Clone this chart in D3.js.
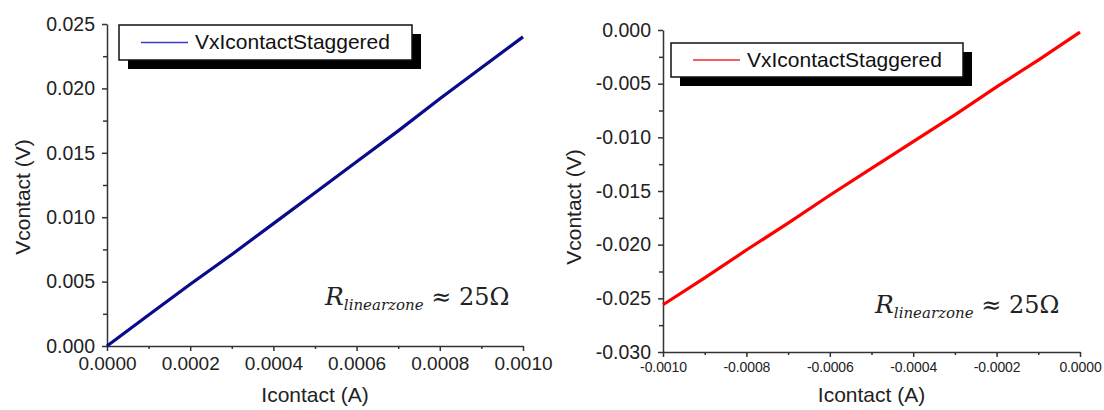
<!DOCTYPE html>
<html>
<head>
<meta charset="utf-8">
<script src="https://cdn.jsdelivr.net/npm/d3@7"></script>
<style>
  html, body { margin: 0; padding: 0; background: #fff; }
  svg { display: block; }
  .tick text { fill: #222; }
</style>
</head>
<body>
<svg id="chart" width="1104" height="410"></svg>
<script>
// Forward sweep (positive current)
const currentPos = [0, 0.0001, 0.0002, 0.0003, 0.0004, 0.0005, 0.0006, 0.0007, 0.0008, 0.0009, 0.0010];
const voltagePos = [0, 0.0024, 0.0048, 0.0071, 0.0095, 0.0119, 0.0143, 0.0167, 0.0192, 0.0216, 0.0240];

// Reverse sweep (negative current)
const currentNeg = [-0.0010, -0.0009, -0.0008, -0.0007, -0.0006, -0.0005, -0.0004, -0.0003, -0.0002, -0.0001, 0];
const voltageNeg = [-0.0256, -0.0231, -0.0205, -0.0180, -0.0154, -0.0129, -0.0104, -0.0079, -0.0053, -0.0028, -0.0002];

// Tick values
const xTicksPos = [0, 0.0002, 0.0004, 0.0006, 0.0008, 0.0010];
const xMinorPos = [0.0001, 0.0003, 0.0005, 0.0007, 0.0009];
const yTicksPos = [0, 0.005, 0.010, 0.015, 0.020, 0.025];
const yMinorPos = [0.0025, 0.0075, 0.0125, 0.0175, 0.0225];

const xTicksNeg = [-0.0010, -0.0008, -0.0006, -0.0004, -0.0002, 0];
const xMinorNeg = [-0.0009, -0.0007, -0.0005, -0.0003, -0.0001];
const yTicksNeg = [-0.030, -0.025, -0.020, -0.015, -0.010, -0.005, 0];
const yMinorNeg = [-0.0275, -0.0225, -0.0175, -0.0125, -0.0075, -0.0025];

const seriesName = "VxIcontactStaggered";
const xTitle = "Icontact (A)";
const yTitle = "Vcontact (V)";

const locale = d3.formatLocale({ decimal: ".", thousands: ",", grouping: [3], currency: ["", ""], minus: "-" });
const fmt3 = locale.format(".3f");
const fmt4 = locale.format(".4f");

const svg = d3.select("#chart");
const FONT = "'Liberation Sans', Arial, sans-serif";

function panel(cfg) {
  const g = svg.append("g");
  const x = d3.scaleLinear().domain(cfg.xDomain).range([cfg.left, cfg.right]);
  const y = d3.scaleLinear().domain(cfg.yDomain).range([cfg.bottom, cfg.top]);

  // minor ticks
  g.append("g").attr("transform", `translate(0,${cfg.bottom})`)
    .call(d3.axisBottom(x).tickValues(cfg.xMinor).tickSize(3).tickSizeOuter(0).tickFormat(""))
    .call(a => a.select(".domain").remove());
  g.append("g").attr("transform", `translate(${cfg.left},0)`)
    .call(d3.axisLeft(y).tickValues(cfg.yMinor).tickSize(4).tickSizeOuter(0).tickFormat(""))
    .call(a => a.select(".domain").remove());

  // major axes
  const xa = g.append("g").attr("transform", `translate(0,${cfg.bottom})`)
    .call(d3.axisBottom(x).tickValues(cfg.xTicks).tickSize(5).tickSizeOuter(0).tickPadding(cfg.xPad).tickFormat(fmt4));
  xa.selectAll("text").attr("font-family", FONT).attr("font-size", cfg.xFont)
    .attr("letter-spacing", cfg.xSpacing);
  const ya = g.append("g").attr("transform", `translate(${cfg.left},0)`)
    .call(d3.axisLeft(y).tickValues(cfg.yTicks).tickSize(5).tickSizeOuter(0).tickPadding(cfg.yPad).tickFormat(fmt3));
  ya.selectAll("text").attr("font-family", FONT).attr("font-size", 19.5);

  g.selectAll(".domain, .tick line").attr("stroke", "#333").attr("stroke-width", 1.5);

  // data line
  const pts = cfg.xs.map((v, i) => [v, cfg.ys[i]]);
  g.append("path")
    .datum(pts)
    .attr("fill", "none")
    .attr("stroke", cfg.color)
    .attr("stroke-width", 3.2)
    .attr("stroke-linejoin", "round")
    .attr("d", d3.line().x(d => x(d[0])).y(d => y(d[1])));

  // legend with drop shadow
  const lg = cfg.legend;
  g.append("rect").attr("x", lg.x + 9).attr("y", lg.y + 9).attr("width", lg.w).attr("height", lg.h).attr("fill", "#000");
  g.append("rect").attr("x", lg.x).attr("y", lg.y).attr("width", lg.w).attr("height", lg.h)
    .attr("fill", "#fff").attr("stroke", "#111").attr("stroke-width", 1.5);
  g.append("line").attr("x1", lg.x + 22).attr("x2", lg.x + 69)
    .attr("y1", lg.y + lg.h / 2).attr("y2", lg.y + lg.h / 2)
    .attr("stroke", cfg.legendColor).attr("stroke-width", 1.3);
  g.append("text").attr("x", lg.x + 76).attr("y", lg.y + 24)
    .attr("font-family", FONT).attr("font-size", 21).attr("fill", "#111")
    .text(seriesName);

  // axis titles
  g.append("text").attr("x", (cfg.left + cfg.right) / 2).attr("y", cfg.xTitleY)
    .attr("text-anchor", "middle").attr("font-family", FONT).attr("font-size", 21).attr("fill", "#222")
    .text(xTitle);
  g.append("text").attr("transform", `translate(${cfg.yTitleX},${cfg.yTitleY}) rotate(-90)`)
    .attr("text-anchor", "middle").attr("font-family", FONT).attr("font-size", 21).attr("fill", "#222")
    .text(yTitle);

  // resistance annotation
  const t = g.append("text").attr("x", cfg.note.x).attr("y", cfg.note.y)
    .attr("font-family", "'DejaVu Serif', 'Liberation Serif', serif").attr("fill", "#222");
  t.append("tspan").attr("font-size", 25).attr("font-style", "italic").text("R");
  t.append("tspan").attr("font-size", 15).attr("font-style", "italic").attr("dy", 5).text("linearzone");
  t.append("tspan").attr("font-size", 24).attr("dy", -5).text(" \u2248 25\u03A9");
}

panel({
  xDomain: [0, 0.0010], yDomain: [0, 0.025],
  left: 107, right: 523, top: 24, bottom: 346,
  xTicks: xTicksPos, xMinor: xMinorPos, yTicks: yTicksPos, yMinor: yMinorPos,
  xFont: 19, xPad: 6, xSpacing: 0, yPad: 7,
  xs: currentPos, ys: voltagePos,
  color: "#0a0a8c", legendColor: "#3a3acc",
  legend: { x: 119, y: 25, w: 293, h: 35 },
  xTitleY: 402, yTitleX: 30, yTitleY: 197,
  note: { x: 325, y: 305 }
});

panel({
  xDomain: [-0.0010, 0], yDomain: [-0.030, 0],
  left: 663, right: 1080, top: 30, bottom: 352,
  xTicks: xTicksNeg, xMinor: xMinorNeg, yTicks: yTicksNeg, yMinor: yMinorNeg,
  xFont: 14, xPad: 5, xSpacing: -0.1, yPad: 7,
  xs: currentNeg, ys: voltageNeg,
  color: "#ff0000", legendColor: "#ee2a2a",
  legend: { x: 671, y: 43, w: 292, h: 34 },
  xTitleY: 402, yTitleX: 581, yTitleY: 207,
  note: { x: 875, y: 313 }
});
</script>
</body>
</html>
